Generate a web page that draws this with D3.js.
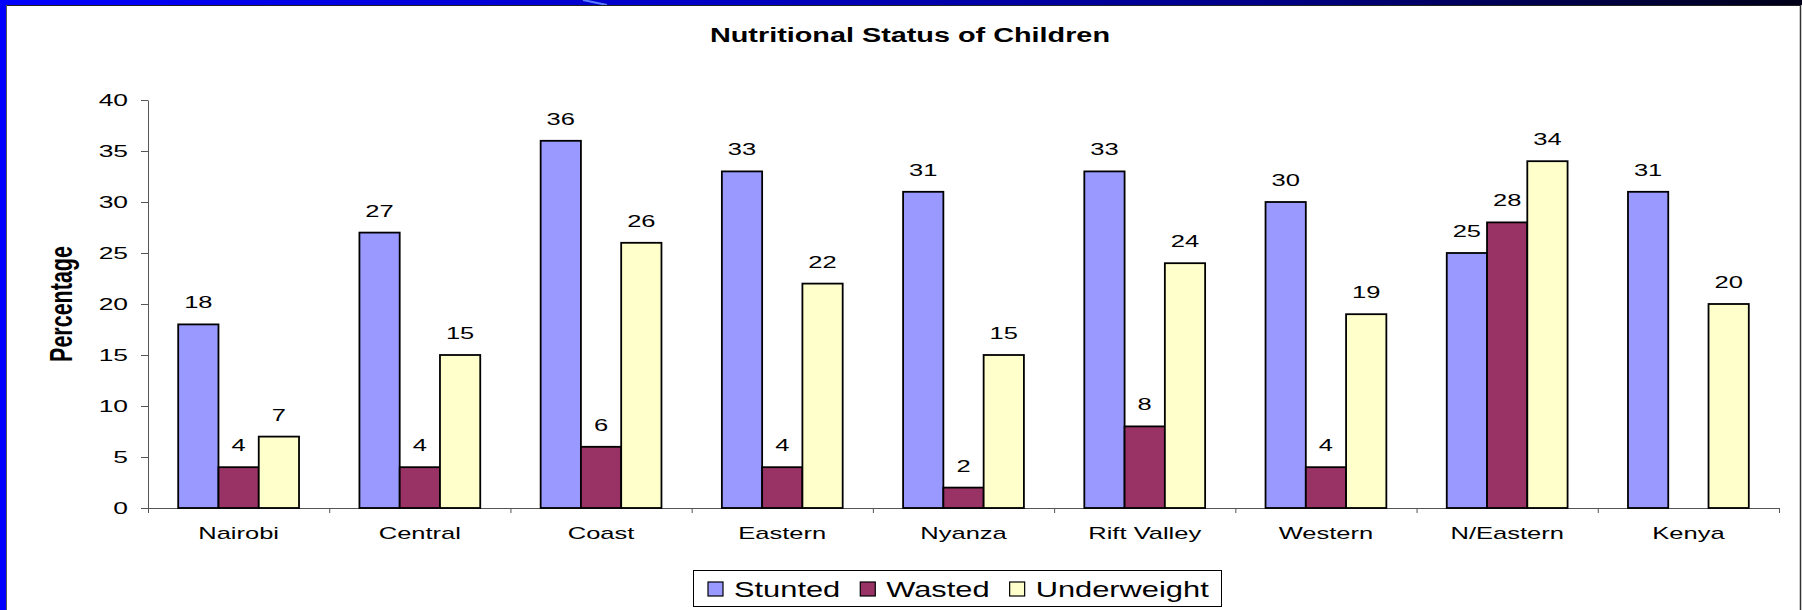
<!DOCTYPE html>
<html>
<head>
<meta charset="utf-8">
<script src="https://cdn.jsdelivr.net/npm/d3@7"></script>
<style>
  body { margin: 0; background: #fff; }
  text { font-family: "Liberation Sans", Arial, sans-serif; fill: #000; }
</style>
</head>
<body>
<div class="fondo"></div>
<script>
// data
var categorias = ["Nairobi", "Central", "Coast", "Eastern", "Nyanza", "Rift Valley", "Western", "N/Eastern", "Kenya"];
var series = ["Stunted", "Wasted", "Underweight"];
var stunted = [18, 27, 36, 33, 31, 33, 30, 25, 31];
var wasted = [4, 4, 6, 4, 2, 8, 4, 28, null];
var underweight = [7, 15, 26, 22, 15, 24, 19, 34, 20];
var yTicks = [0, 5, 10, 15, 20, 25, 30, 35, 40];
var colores = ["#9999ff", "#993366", "#ffffcc"];

var valores = [stunted, wasted, underweight];

// the image is stretched sideways, so every text gets widened
function estirar(sel, k) {
  sel.each(function () {
    var w = this.getComputedTextLength();
    d3.select(this).attr("textLength", w * k).attr("lengthAdjust", "spacingAndGlyphs");
  });
}

var contenedor = d3.select(".fondo")
  .append("svg")
  .attr("width", 1802)
  .attr("height", 610);

var defs = contenedor.append("defs");
var grad = defs.append("linearGradient").attr("id", "barra").attr("x1", "0%").attr("x2", "100%");
grad.append("stop").attr("offset", "0%").attr("stop-color", "#0000ff");
grad.append("stop").attr("offset", "40%").attr("stop-color", "#0000c4");
grad.append("stop").attr("offset", "70%").attr("stop-color", "#000088");
grad.append("stop").attr("offset", "100%").attr("stop-color", "#000018");

// slide frame
contenedor.append("rect").attr("x", 0).attr("y", 0).attr("width", 1802).attr("height", 5).attr("fill", "url(#barra)");
contenedor.append("path").attr("d", "M583,0 L607,5").attr("stroke", "#5a7cff").attr("stroke-width", 2);
contenedor.append("rect").attr("x", 0).attr("y", 0).attr("width", 6).attr("height", 610).attr("fill", "#0000ff");
contenedor.append("line").attr("x1", 6).attr("x2", 1801).attr("y1", 5.5).attr("y2", 5.5).attr("stroke", "#222").attr("stroke-width", 1);
contenedor.append("line").attr("x1", 6.5).attr("x2", 6.5).attr("y1", 5).attr("y2", 610).attr("stroke", "#555").attr("stroke-width", 1);
contenedor.append("line").attr("x1", 1800.5).attr("x2", 1800.5).attr("y1", 5).attr("y2", 610).attr("stroke", "#333").attr("stroke-width", 1.5);

var x0 = d3.scaleBand().domain(categorias).range([148, 1779]).padding(0);
var x1 = d3.scaleBand().domain(series).range([0, x0.bandwidth()]).paddingInner(0).paddingOuter(0.75);
var y = d3.scaleLinear().domain([0, 40]).range([508, 100]);

// y axis
var ejeY = contenedor.append("g")
  .attr("transform", "translate(148,0)")
  .call(d3.axisLeft(y).tickValues(yTicks).tickSize(7).tickPadding(13).tickSizeOuter(0));
ejeY.select(".domain").attr("stroke", "#555");
ejeY.selectAll(".tick line").attr("stroke", "#555");
ejeY.selectAll("text").attr("font-size", 16).attr("font-family", null);
estirar(ejeY.selectAll("text"), 1.65);

// x axis: ticks on the category borders
var bordes = d3.scaleLinear().domain([0, categorias.length]).range([148, 1779]);
var ejeX = contenedor.append("g")
  .attr("transform", "translate(0,508)")
  .call(d3.axisBottom(bordes).ticks(categorias.length).tickFormat("").tickSize(5).tickSizeOuter(0));
ejeX.select(".domain").attr("stroke", "#555");
ejeX.selectAll(".tick line").attr("stroke", "#555");

var nombres = contenedor.append("g")
  .attr("transform", "translate(0,508)")
  .call(d3.axisBottom(x0).tickSize(0).tickPadding(19));
nombres.select(".domain").remove();
nombres.selectAll("text").attr("font-size", 17).attr("font-family", null);
estirar(nombres.selectAll("text"), 1.5);

// bars
var grupos = contenedor.selectAll(".grupo")
  .data(categorias)
  .enter()
  .append("g")
  .attr("class", "grupo")
  .attr("transform", function (d) { return "translate(" + x0(d) + ",0)"; });

grupos.selectAll("rect")
  .data(function (d, i) {
    return series.map(function (s, j) { return { serie: s, valor: valores[j][i], color: colores[j] }; })
      .filter(function (e) { return e.valor != null; });
  })
  .enter()
  .append("rect")
  .attr("x", function (d) { return x1(d.serie); })
  .attr("y", function (d) { return y(d.valor); })
  .attr("width", x1.bandwidth())
  .attr("height", function (d) { return y(0) - y(d.valor); })
  .attr("fill", function (d) { return d.color; })
  .attr("stroke", "#000")
  .attr("stroke-width", 1.8);

var etiquetas = grupos.selectAll("text")
  .data(function (d, i) {
    return series.map(function (s, j) { return { serie: s, valor: valores[j][i] }; })
      .filter(function (e) { return e.valor != null; });
  })
  .enter()
  .append("text")
  .attr("x", function (d) { return x1(d.serie) + x1.bandwidth() / 2; })
  .attr("y", function (d) { return y(d.valor) - 16; })
  .attr("text-anchor", "middle")
  .attr("font-size", 17)
  .text(function (d) { return d.valor; });
estirar(etiquetas, 1.5);

// title
var titulo = contenedor.append("text")
  .attr("x", 910)
  .attr("y", 42)
  .attr("text-anchor", "middle")
  .attr("font-size", 20)
  .attr("font-weight", "bold")
  .text("Nutritional Status of Children");
estirar(titulo, 1.44);

// y axis title
contenedor.append("text")
  .attr("transform", "translate(72,304) scale(1.45,1) rotate(-90)")
  .attr("text-anchor", "middle")
  .attr("font-size", 21.5)
  .attr("font-weight", "bold")
  .text("Percentage");

// legend
var leyenda = contenedor.append("g");
leyenda.append("rect")
  .attr("x", 693.5)
  .attr("y", 570.5)
  .attr("width", 528)
  .attr("height", 36)
  .attr("fill", "#fff")
  .attr("stroke", "#000")
  .attr("stroke-width", 1);

var px = 708;
series.forEach(function (s, j) {
  leyenda.append("rect")
    .attr("x", px)
    .attr("y", 582)
    .attr("width", 15)
    .attr("height", 14)
    .attr("fill", colores[j])
    .attr("stroke", "#000")
    .attr("stroke-width", 1.2);
  var t = leyenda.append("text")
    .attr("x", px + 26)
    .attr("y", 597)
    .attr("font-size", 22.5)
    .text(s);
  var w = t.node().getComputedTextLength() * 1.37;
  t.attr("textLength", w).attr("lengthAdjust", "spacingAndGlyphs");
  px = px + 26 + w + 20;
});
</script>
</body>
</html>
